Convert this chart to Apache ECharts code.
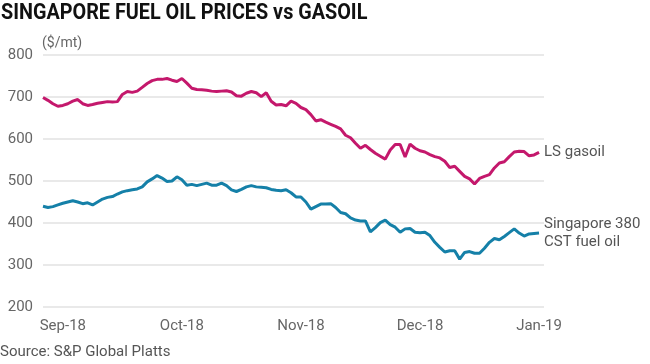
<!DOCTYPE html>
<html>
<head>
<meta charset="utf-8">
<script src="https://cdn.jsdelivr.net/npm/echarts@6/dist/echarts.min.js"></script>
<style>
html,body{margin:0;padding:0;background:#fff;}
#chart{width:650px;height:364px;}
</style>
</head>
<body>
<div id="chart"></div>
<script>
// Tick labels for the x axis (one per month, every 24 points starting at point 4)
const monthLabels = ['Sep-18', 'Oct-18', 'Nov-18', 'Dec-18', 'Jan-19'];
const firstLabelIndex = 4;
const pointsPerMonth = 24;

// LS gasoil ($/mt)
const gasoil = [
  699, 692, 684, 678, 680, 684, 690, 694, 684, 680,
  682, 685, 687, 689, 688, 689, 706, 713, 711, 714,
  723, 732, 739, 742, 742, 744, 740, 737, 744, 733,
  721, 718, 717, 716, 714, 713, 714, 715, 712, 703,
  702, 709, 713, 710, 701, 710, 690, 681, 682, 679,
  690, 685, 675, 670, 658, 643, 646, 640, 635, 630,
  624, 609, 603, 590, 578, 585, 575, 566, 559, 552,
  574, 587, 587, 557, 588, 578, 572, 569, 563, 558,
  555, 547, 532, 535, 523, 511, 505, 493, 506, 511,
  515, 531, 543, 546, 558, 569, 571, 570, 560, 562,
  568
];

// Singapore 380 CST fuel oil ($/mt)
const fuelOil = [
  440, 437, 439, 443, 447, 450, 453, 450, 446, 448,
  443, 450, 457, 461, 463, 469, 474, 477, 479, 481,
  486, 498, 505, 513, 507, 499, 500, 510, 503, 490,
  492, 489, 492, 495, 490, 490, 495, 489, 479, 475,
  480, 486, 489, 486, 485, 484, 480, 478, 477, 479,
  472, 462, 462, 450, 433, 439, 445, 445, 446, 437,
  425, 422, 412, 407, 405, 405, 379, 389, 401, 407,
  396, 390, 378, 386, 387, 378, 377, 378, 370, 354,
  342, 331, 334, 334, 314, 330, 332, 328, 328, 340,
  354, 363, 360, 368, 377, 386, 376, 369, 374, 375,
  376
];

const seriesNames = ['LS gasoil', 'Singapore 380\nCST fuel oil'];
const yTicks = { min: 200, max: 800, interval: 100 };

// category axis: one slot per point, plus one trailing empty slot
const categories = [];
for (let i = 0; i <= gasoil.length; i++) categories.push(i);

function labelFor(i) {
  const k = (i - firstLabelIndex) / pointsPerMonth;
  if (Number.isInteger(k) && k >= 0 && k < monthLabels.length) return monthLabels[k];
  return '';
}

const chart = echarts.init(document.getElementById('chart'), null, { renderer: 'canvas' });
const FONT = 'Roboto';
chart.setOption({
  animation: false,
  backgroundColor: '#fff',
  grid: { left: 43, right: 106, top: 55, bottom: 57, containLabel: false },
  xAxis: {
    type: 'category',
    data: categories,
    boundaryGap: false,
    axisLine: { show: false },
    axisTick: { show: false },
    splitLine: { show: false },
    axisLabel: {
      interval: function (i) { return labelFor(i) !== ''; },
      formatter: function (v, i) { return labelFor(i); },
      color: '#666',
      fontFamily: FONT,
      fontSize: 15,
      margin: 12
    }
  },
  yAxis: {
    type: 'value',
    min: yTicks.min, max: yTicks.max, interval: yTicks.interval,
    axisLine: { show: false },
    axisTick: { show: false },
    splitLine: { lineStyle: { color: '#e2e2e2', width: 1.5 } },
    axisLabel: { color: '#666', fontFamily: FONT, fontSize: 15, margin: 10 }
  },
  series: [
    {
      name: seriesNames[0], type: 'line', data: gasoil, showSymbol: false,
      lineStyle: { color: '#c4186c', width: 3 },
      endLabel: { show: true, formatter: seriesNames[0], color: '#555', fontFamily: FONT, fontSize: 15, distance: 5 }
    },
    {
      name: seriesNames[1], type: 'line', data: fuelOil, showSymbol: false,
      lineStyle: { color: '#1580a8', width: 3 },
      endLabel: { show: true, formatter: seriesNames[1], color: '#555', fontFamily: FONT, fontSize: 15, lineHeight: 18, distance: 5 }
    }
  ],
  graphic: [
    { type: 'text', x: 1, y: 2, scaleX: 0.9, style: { text: 'SINGAPORE FUEL OIL PRICES vs GASOIL', fontFamily: FONT, fontWeight: 'bold', fontSize: 22, fill: '#111' } },
    { type: 'text', left: 42, top: 36, style: { text: '($/mt)', fontFamily: FONT, fontSize: 14, fill: '#666' } },
    { type: 'text', left: 0, top: 345, style: { text: 'Source: S&P Global Platts', fontFamily: FONT, fontSize: 15, fill: '#555' } }
  ]
});
</script>
</body>
</html>
